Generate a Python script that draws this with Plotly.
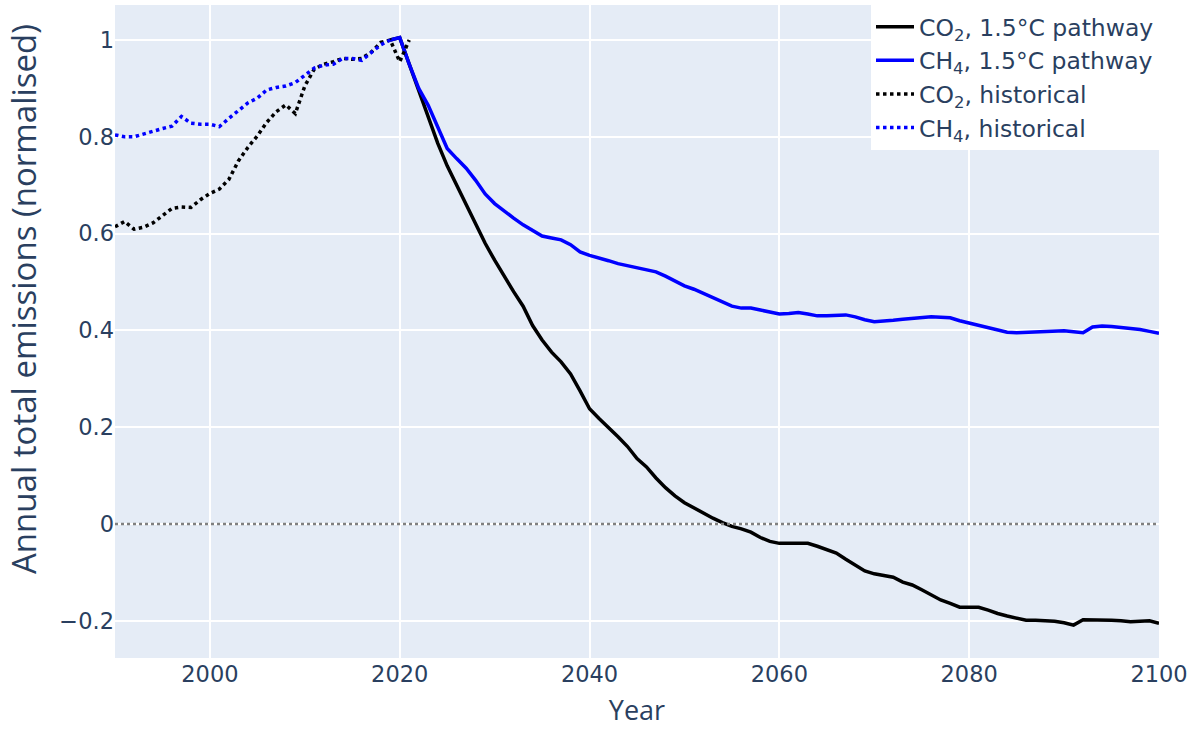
import plotly.graph_objects as go

# Historical emissions, normalised to the 2019 level
hist_years = list(range(1990, 2022))
co2_hist = [0.614, 0.625, 0.609, 0.613, 0.622, 0.636, 0.652, 0.655, 0.654, 0.670,
            0.683, 0.692, 0.712, 0.750, 0.778, 0.802, 0.830, 0.852, 0.866, 0.848,
            0.905, 0.940, 0.950, 0.955, 0.962, 0.960, 0.962, 0.975, 0.995, 1.000,
            0.955, 1.000]

ch4_hist_years = list(range(1990, 2020))
ch4_hist = [0.804, 0.800, 0.800, 0.806, 0.812, 0.817, 0.822, 0.842, 0.828, 0.826,
            0.826, 0.821, 0.838, 0.855, 0.870, 0.880, 0.897, 0.902, 0.905, 0.912,
            0.928, 0.942, 0.948, 0.950, 0.962, 0.962, 0.958, 0.975, 0.990, 1.000]

# 1.5°C pathway, 2019-2100
path_years = list(range(2019, 2101))
co2_path = [1.000, 1.005, 0.950, 0.895, 0.840, 0.787, 0.740, 0.700, 0.660, 0.620,
            0.580, 0.545, 0.512, 0.480, 0.450, 0.410, 0.380, 0.355, 0.335, 0.310,
            0.275, 0.238, 0.218, 0.200, 0.180, 0.160, 0.135, 0.118, 0.095, 0.075,
            0.058, 0.044, 0.033, 0.022, 0.012, 0.003, -0.005, -0.010, -0.017, -0.028,
            -0.036, -0.040, -0.040, -0.040, -0.040, -0.046, -0.053, -0.060, -0.073, -0.085,
            -0.097, -0.103, -0.107, -0.110, -0.120, -0.126, -0.136, -0.146, -0.157, -0.164,
            -0.172, -0.172, -0.172, -0.178, -0.185, -0.190, -0.195, -0.199, -0.199, -0.200,
            -0.201, -0.204, -0.209, -0.198, -0.198, -0.198, -0.199, -0.200, -0.202, -0.201,
            -0.200, -0.205]
ch4_path = [1.000, 1.005, 0.950, 0.900, 0.865, 0.820, 0.776, 0.755, 0.735, 0.710,
            0.682, 0.662, 0.646, 0.632, 0.618, 0.606, 0.595, 0.591, 0.587, 0.577,
            0.562, 0.555, 0.550, 0.544, 0.538, 0.534, 0.530, 0.526, 0.521, 0.512,
            0.502, 0.492, 0.485, 0.476, 0.467, 0.458, 0.450, 0.446, 0.446, 0.442,
            0.438, 0.434, 0.435, 0.437, 0.434, 0.430, 0.430, 0.431, 0.432, 0.428,
            0.422, 0.418, 0.419, 0.421, 0.423, 0.425, 0.427, 0.428, 0.427, 0.426,
            0.420, 0.415, 0.410, 0.405, 0.400, 0.396, 0.395, 0.396, 0.397, 0.398,
            0.399, 0.399, 0.397, 0.395, 0.407, 0.409, 0.408, 0.406, 0.404, 0.402,
            0.398, 0.394]

x_ticks = [2000, 2020, 2040, 2060, 2080, 2100]
y_ticks = [-0.2, 0, 0.2, 0.4, 0.6, 0.8, 1]
y_tick_text = ["\u22120.2", "0", "0.2", "0.4", "0.6", "0.8", "1"]

LW = 3.5
fig = go.Figure()
fig.add_trace(go.Scatter(x=path_years, y=co2_path, mode="lines",
                         name="CO<sub>2</sub>, 1.5°C pathway",
                         line=dict(color="black", width=LW)))
fig.add_trace(go.Scatter(x=path_years, y=ch4_path, mode="lines",
                         name="CH<sub>4</sub>, 1.5°C pathway",
                         line=dict(color="blue", width=LW)))
fig.add_trace(go.Scatter(x=hist_years, y=co2_hist, mode="lines",
                         name="CO<sub>2</sub>, historical",
                         line=dict(color="black", width=LW, dash="dot")))
fig.add_trace(go.Scatter(x=ch4_hist_years, y=ch4_hist, mode="lines",
                         name="CH<sub>4</sub>, historical",
                         line=dict(color="blue", width=LW, dash="dot")))

# net-zero reference line
fig.add_hline(y=0, line=dict(color="gray", width=2.5, dash="dot"), layer="above")

# vertical axis label, set a little above the plot's centre
fig.add_annotation(text="Annual total emissions (normalised)",
                   xref="paper", yref="paper", x=-0.087, y=0.55,
                   xanchor="center", yanchor="middle", textangle=-90,
                   showarrow=False,
                   font=dict(family="Open Sans", size=33, color="#2a3f5f"))

fig.update_layout(
    template="plotly",
    width=1196, height=729,
    margin=dict(l=115, r=37, t=5, b=71),
    paper_bgcolor="white",
    plot_bgcolor="#E5ECF6",
    font=dict(family="DejaVu Sans, Verdana, sans-serif", size=22.5, color="#2a3f5f"),
    legend=dict(x=1, y=1, xanchor="right", yanchor="top",
                bgcolor="white", font=dict(size=23.5),
                itemwidth=38, tracegroupgap=0),
    xaxis=dict(range=[1990, 2100], tickvals=x_ticks,
               title=dict(text="Year", font=dict(family="Open Sans", size=27)),
               gridcolor="white", gridwidth=1.5, zeroline=False),
    yaxis=dict(range=[-0.2769, 1.0723], tickvals=y_ticks, ticktext=y_tick_text,
               gridcolor="white", gridwidth=1.5, zeroline=False),
)

fig.write_html("out.html")
